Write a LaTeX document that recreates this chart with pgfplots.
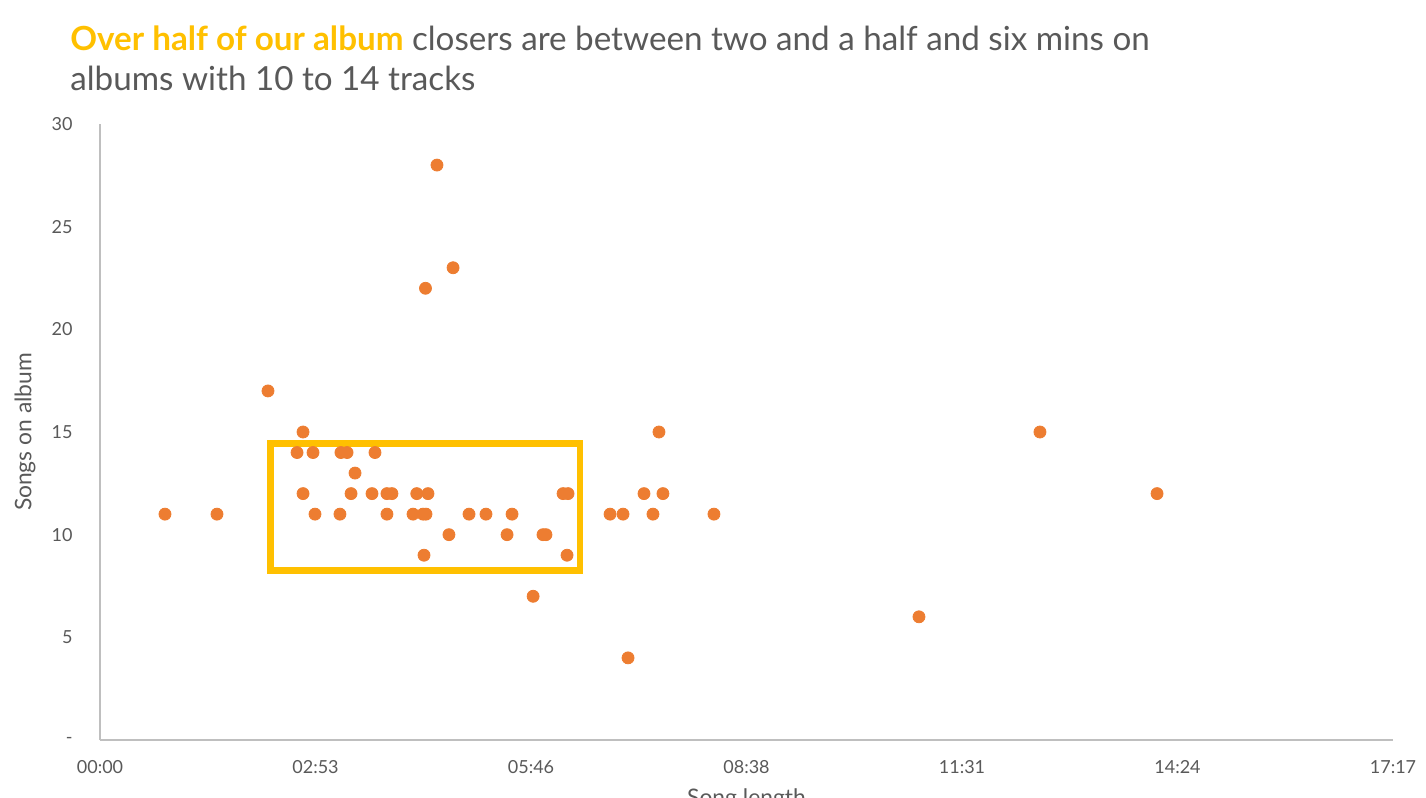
\documentclass[border=0pt]{standalone}
\usepackage{fontspec}
\setmainfont{Lato}
\usepackage{pgfplots}
\pgfplotsset{compat=1.18}
\definecolor{dot}{HTML}{ED7D31}
\definecolor{gold}{HTML}{FFC000}
\definecolor{txt}{HTML}{595959}
\definecolor{axg}{HTML}{BFBFBF}
\begin{document}
\begin{tikzpicture}[x=0.5pt,y=0.5pt]
\useasboundingbox (0,0) rectangle (1426,-798);
\node[anchor=base west, inner sep=0, font=\fontsize{16.6}{19}\selectfont, text=txt] at (70,-50) {\textcolor{gold}{\bfseries Over half of our album} closers are between two and a half and six mins on};
\node[anchor=base west, inner sep=0, font=\fontsize{16.6}{19}\selectfont, text=txt] at (70,-90) {albums with 10 to 14 tracks};
\begin{axis}[
  at={(50pt,-370pt)}, anchor=south west,
  width=646.5pt, height=308pt, scale only axis,
  xmin=0, xmax=1036.8, ymin=0, ymax=30,
  axis x line*=bottom, axis y line*=left,
  axis line style={axg, line width=0.8pt},
  major tick length=0pt,
  xtick={0,172.8,345.6,518.4,691.2,864,1036.8},
  xticklabels={00:00,02:53,05:46,08:38,11:31,14:24,17:17},
  ytick={0,5,10,15,20,25,30},
  yticklabels={-,5,10,15,20,25,30},
  tick label style={font=\fontsize{9}{11}\selectfont, text=txt, inner sep=0pt},
  xticklabel style={anchor=north, yshift=-10pt},
  yticklabel style={anchor=east, xshift=-13.5pt},
  xlabel={Song length}, ylabel={Songs on album},
  label style={font=\fontsize{11.4}{13}\selectfont, text=txt, inner sep=0pt},
  xlabel style={at={(axis description cs:0.5,-0.1006)}, anchor=base, yshift=-2pt},
  ylabel style={at={(axis description cs:-0.058,0.5)}, anchor=center},
  clip=false,
]
\draw[gold, line width=3.2pt] (axis cs:136.6,8.26) rectangle (axis cs:384.9,14.45);
\addplot[only marks, mark=*, mark size=3pt, mark options={draw=dot, fill=dot}] table {
x y
52.1 11
93.8 11
134.7 17
158.0 14
162.8 15
162.8 12
170.8 14
172.4 11
192.4 11
193.2 14
198.1 14
201.3 12
204.5 13
218.1 12
220.5 14
230.1 12
234.1 12
230.1 11
251.0 11
254.0 12
259.0 11
261.4 11
263.0 12
259.8 9
261.0 22
270.2 28
279.8 10
283.1 23
295.9 11
309.5 11
326.4 10
330.4 11
347.3 7
355.2 10
357.6 10
371.3 12
375.3 12
374.5 9
409.0 11
419.4 11
423.4 4
436.2 12
443.4 11
448.2 15
451.4 12
492.3 11
656.7 6
753.7 15
847.6 12
};
\end{axis}
\end{tikzpicture}
\end{document}
